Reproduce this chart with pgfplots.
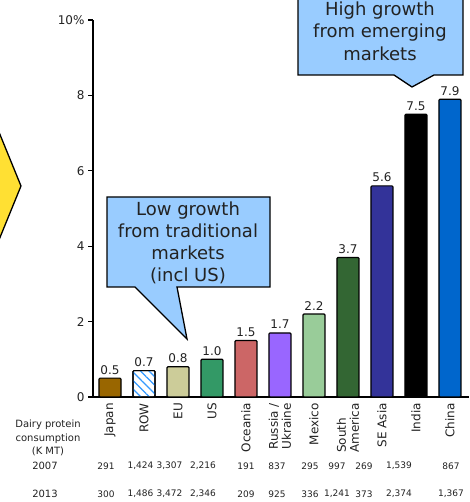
\documentclass[border=0pt]{standalone}
\usepackage{fontspec}
\setmainfont{DejaVu Sans}
\usepackage{pgfplots}
\pgfplotsset{compat=1.18}
\usetikzlibrary{patterns.meta}
\definecolor{cJapan}{HTML}{996600}
\definecolor{cROW}{HTML}{3399FF}
\definecolor{cEU}{HTML}{CCCC99}
\definecolor{cUS}{HTML}{339966}
\definecolor{cOce}{HTML}{CC6666}
\definecolor{cRus}{HTML}{9966FF}
\definecolor{cMex}{HTML}{99CC99}
\definecolor{cSA}{HTML}{336633}
\definecolor{cSEA}{HTML}{333399}
\definecolor{cInd}{HTML}{000000}
\definecolor{cChi}{HTML}{0066CC}
\definecolor{cCall}{HTML}{99CCFF}
\definecolor{cYel}{HTML}{FFE033}
\definecolor{txt}{HTML}{222222}
\begin{document}
\begin{tikzpicture}
\begin{axis}[
  at={(93pt,105pt)}, anchor=south west, scale only axis,
  width=376pt, height=377pt,
  xmin=-0.5, xmax=10.56, ymin=0, ymax=10,
  axis x line=bottom, axis y line=left,
  axis line style={-, line width=1.3pt, black},
  ytick={0,2,4,6,8,10}, yticklabels={0,2,4,6,8,10\%},
  xtick={0,1,2,3,4,5,6,7,8,9,10},
  xticklabels={Japan,ROW,EU,US,Oceania,{Russia /\\Ukraine},Mexico,{South\\America},SE Asia,India,China},
  x tick style={draw=none},
  y tick style={line width=1.3pt, black},
  tick align=outside, major tick length=5pt,
  yticklabel style={font=\fontsize{12}{14}\selectfont, text=txt},
  xticklabel style={rotate=90, anchor=east, align=left, font=\fontsize{12}{13}\selectfont, text=txt, inner sep=1pt},
  ybar, bar width=22pt,
  nodes near coords={\pgfmathprintnumber[fixed,fixed zerofill,precision=1,assume math mode=true]{\pgfplotspointmeta}},
  every node near coord/.append style={font=\fontsize{12}{14}\selectfont, text=txt},
  mybar/.style={bar shift=0pt, draw=black, line width=1.2pt, rounded corners=1pt},
  clip=false,
]
\addplot[mybar, fill=cJapan] coordinates {(0,0.5)};
\addplot[mybar, fill=white, postaction={pattern={Lines[angle=-45,distance=6pt,line width=1.3pt]}, pattern color=cROW}] coordinates {(1,0.7)};
\addplot[mybar, fill=cEU] coordinates {(2,0.8)};
\addplot[mybar, fill=cUS] coordinates {(3,1.0)};
\addplot[mybar, fill=cOce] coordinates {(4,1.5)};
\addplot[mybar, fill=cRus] coordinates {(5,1.7)};
\addplot[mybar, fill=cMex] coordinates {(6,2.2)};
\addplot[mybar, fill=cSA] coordinates {(7,3.7)};
\addplot[mybar, fill=cSEA] coordinates {(8,5.6)};
\addplot[mybar, fill=cInd] coordinates {(9,7.5)};
\addplot[mybar, fill=cChi] coordinates {(10,7.9)};
\end{axis}
\begin{scope}[x=1pt, y=-1pt, yshift=502pt]
  \begin{scope}
    \clip (0,0) rectangle (469,502);
    \draw[fill=cYel, line width=1.3pt, line join=miter] (-60,115) -- (-8,115) -- (21,186) -- (-8,257) -- (-60,257) -- cycle;
    \draw[fill=cCall, line width=1.3pt, line join=miter] (298,-20) -- (463,-20) -- (463,75) -- (434,75) -- (412,87) -- (394,75) -- (298,75) -- cycle;
  \end{scope}
  \draw[fill=cCall, line width=1.3pt, line join=miter] (107,197) -- (270,197) -- (270,287) -- (177,287) -- (187,339) -- (135,287) -- (107,287) -- cycle;
  \node[align=center, font=\fontsize{18}{22}\selectfont, text=txt] at (188,243) {Low growth\\from traditional\\markets\\(incl US)};
  \node[align=center, font=\fontsize{18}{22.5}\selectfont, text=txt] at (380,31) {High growth\\from emerging\\markets};
  \node[align=center, font=\fontsize{10}{13.5}\selectfont, text=txt] at (48,438) {Dairy protein\\consumption\\(K MT)};
  \node[font=\fontsize{10}{12}\selectfont, text=txt] at (45,466) {2007};
  \node[font=\fontsize{10}{12}\selectfont, text=txt] at (45,494) {2013};
  \foreach \x/\a/\b in {106/291/300, 140.5/{1,424}/{1,486}, 169.5/{3,307}/{3,472}, 203/{2,216}/{2,346}, 246/191/209, 277/837/925, 310/295/336, 337/997/{1,241}, 364/269/373, 399/{1,539}/{2,374}, 451/867/{1,367}}{
    \node[font=\fontsize{9}{11}\selectfont, text=txt] at (\x,466) {\a};
    \node[font=\fontsize{9}{11}\selectfont, text=txt] at (\x,494) {\b};
  }
\end{scope}
\pgfresetboundingbox
\useasboundingbox (0,0) rectangle (469pt,502pt);
\end{tikzpicture}
\end{document}
